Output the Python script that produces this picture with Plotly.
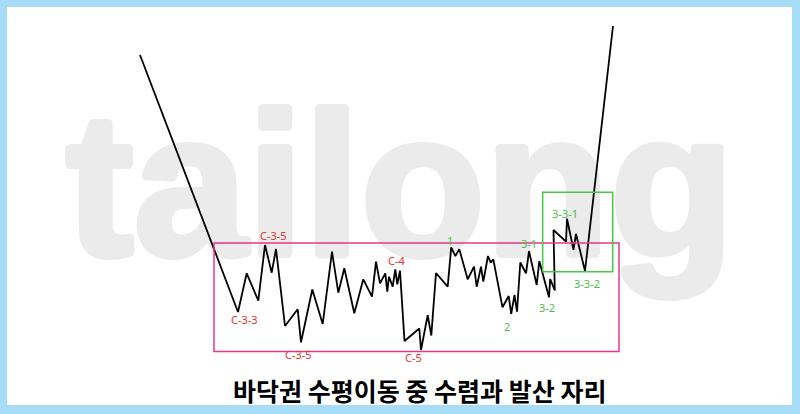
import plotly.graph_objects as go

# price path (time index, price level)
time_idx = [140, 238, 246.7, 258.3, 265, 271.7, 276, 285, 297.7, 301, 312.3, 322.7, 332, 338.3,
            344.3, 354.3, 363.3, 372, 376, 380, 385.3, 387.3, 389, 392.7, 395.3, 397.3, 400,
            404.5, 419.3, 421, 427.7, 431.3, 436, 447.7, 451.2, 455.3, 459.3, 467.7, 474, 476.7,
            481, 483.3, 488, 490.7, 493.3, 502.5, 508.7, 511.2, 514.5, 517, 520.3, 526, 529,
            536.7, 539.3, 549, 550.2, 554.8, 553.5, 566, 567, 573.5, 576, 585, 613]
price = [359, 102, 140.7, 113.3, 169, 141.3, 165, 88, 104.7, 71.7, 124.5, 90, 162.3, 121.3,
         145.7, 100.7, 134.7, 117.3, 152.3, 130.7, 140.7, 122.3, 137.3, 127.3, 144.7, 129.7, 143.3,
         73, 85.5, 64, 98.8, 78.5, 141, 127.3, 166.7, 158, 164.7, 134.7, 147.3, 127.3,
         147.3, 132.3, 158, 151.3, 154.7, 106.7, 118, 100, 119, 102.3, 151.5, 140.7, 162.8,
         129, 153, 116.7, 135, 123.5, 184, 172.3, 195.3, 164.3, 180, 143, 388]

# boxes [x0, x1, y0, y1]
range_box = [214, 619, 62.5, 171]
squeeze_box = [542.7, 612.7, 142.3, 221.7]

# wave labels
red_labels = ["C-3-5", "C-3-3", "C-3-5", "C-4", "C-5"]
red_x = [273.3, 244.3, 298.5, 396.7, 413]
red_y = [178.3, 94.7, 59.5, 154, 56.5]
green_labels = ["1", "3-1", "2", "3-2", "3-3-1", "3-3-2"]
green_x = [450, 528.5, 507.3, 546.7, 565, 587]
green_y = [173.5, 170.7, 88, 106.7, 201, 130.3]

title_text = "바닥권 수평이동 중 수렴과 발산 자리"
watermark = "tailong"

wm_col = "#ebebeb"
fig = go.Figure()
# watermark (drawn first so it stays under the line)
fig.add_trace(go.Scatter(x=[400], y=[210], mode="text", text=[watermark],
                         textfont=dict(family="Liberation Sans", size=204, color=wm_col,
                                       weight="bold",
                                       shadow=f"3px 0 {wm_col}, -3px 0 {wm_col}, 0 3px {wm_col}, 0 -3px {wm_col}, 2px 2px {wm_col}, -2px -2px {wm_col}, 2px -2px {wm_col}, -2px 2px {wm_col}"),
                         hoverinfo="skip", showlegend=False))
fig.add_trace(go.Scatter(x=time_idx, y=price, mode="lines",
                         line=dict(color="black", width=1.8), showlegend=False))

fig.add_shape(type="rect", x0=range_box[0], x1=range_box[1], y0=range_box[2], y1=range_box[3],
              line=dict(color="#e8378a", width=1.5))
fig.add_shape(type="rect", x0=squeeze_box[0], x1=squeeze_box[1], y0=squeeze_box[2], y1=squeeze_box[3],
              line=dict(color="#45c945", width=1.5))

for t, x, y in zip(red_labels, red_x, red_y):
    fig.add_annotation(x=x, y=y, text=t, showarrow=False,
                       font=dict(family="Noto Sans", size=11, color="#e8332e"))
for t, x, y in zip(green_labels, green_x, green_y):
    fig.add_annotation(x=x, y=y, text=t, showarrow=False,
                       font=dict(family="Noto Sans", size=11, color="#47c247"))

fig.add_annotation(x=419.5, y=24, text="<b>" + title_text + "</b>", showarrow=False,
                   font=dict(family="Noto Sans CJK KR", size=25, color="black"))

fig.update_xaxes(range=[7, 792], visible=False, fixedrange=True)
fig.update_yaxes(range=[9, 407], visible=False, fixedrange=True)
fig.update_layout(width=800, height=414, margin=dict(l=7, r=8, t=7, b=9),
                  paper_bgcolor="#a6dcf5", plot_bgcolor="white", showlegend=False)

fig.write_html("out.html", config={"displayModeBar": False},
               post_script="document.body.style.margin='0';document.body.style.padding='0';")
